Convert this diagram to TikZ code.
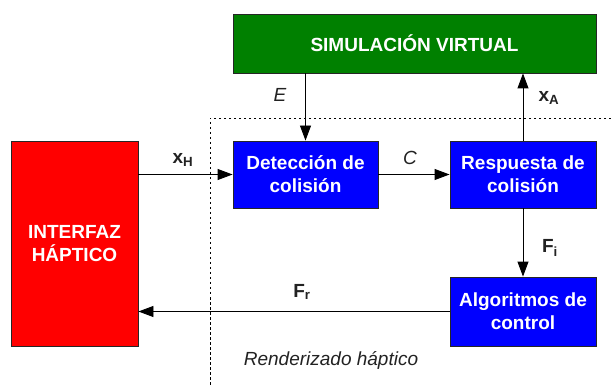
\documentclass[tikz,border=0pt]{standalone}
\usepackage{fontspec}
\setmainfont{Liberation Sans}
\usetikzlibrary{arrows.meta}
\definecolor{simgreen}{HTML}{008000}
\definecolor{hapblue}{HTML}{0000FF}
\definecolor{hapred}{HTML}{FF0000}
\definecolor{lbl}{HTML}{222222}
\tikzset{
  blk/.style={draw=black!85, line width=0.9pt, text=white, font=\bfseries\fontsize{19}{23}\selectfont, align=center, inner sep=0pt},
  arr/.style={line width=0.9pt, -{Triangle[length=15pt,width=11pt]}},
  lab/.style={font=\bfseries\fontsize{19}{23}\selectfont, text=lbl},
  ilab/.style={font=\itshape\fontsize{19}{23}\selectfont, text=lbl},
  border/.style={line width=0.9pt, dash pattern=on 2.5pt off 2.5pt}
}
\begin{document}
\begin{tikzpicture}[x=1pt,y=-1pt]
\useasboundingbox (0,0) rectangle (611,385);
% dotted boundary
\coordinate (bc) at (210,118);
\coordinate (br) at (611,118);
\coordinate (bb) at (210,385);
\draw[border] (br) -- (bc) -- (bb);
% boxes
\node[blk, fill=simgreen, minimum width=363pt, minimum height=59pt] (sim) at (414.5,43.5) {SIMULACIÓN VIRTUAL};
\node[blk, fill=hapblue, minimum width=145pt, minimum height=67pt] (det) at (305.5,174.5) {Detección de\\colisión};
\node[blk, fill=hapblue, minimum width=146pt, minimum height=67pt] (resp) at (523,174.5) {Respuesta de\\colisión};
\node[blk, fill=hapblue, minimum width=146pt, minimum height=69pt] (alg) at (523,311.5) {Algoritmos de\\control};
\node[blk, fill=hapred, minimum width=127pt, minimum height=205pt] (hap) at (74.5,243.5) {INTERFAZ\\HÁPTICO};
% connectors
\draw[arr] (sim.south -| det.north) -- (det.north);
\draw[arr] (resp.north) -- (sim.south -| resp.north);
\draw[arr] (hap.east |- det.west) -- (det.west);
\draw[arr] (det.east) -- (resp.west);
\draw[arr] (resp.south) -- (alg.north);
\draw[arr] (alg.west) -- (hap.east |- alg.west);
% labels
\node[ilab] (lE) at (280,95) {E};
\node[lab] (lxA) at (549,98) {x\textsubscript{A}};
\node[lab] (lxH) at (183,160) {x\textsubscript{H}};
\node[ilab] (lC) at (410,158) {C};
\node[lab] (lFi) at (550,248) {F\textsubscript{i}};
\node[lab] (lFr) at (302,292) {F\textsubscript{r}};
\node[ilab] (lR) at (331,360) {Renderizado háptico};
\end{tikzpicture}
\end{document}
